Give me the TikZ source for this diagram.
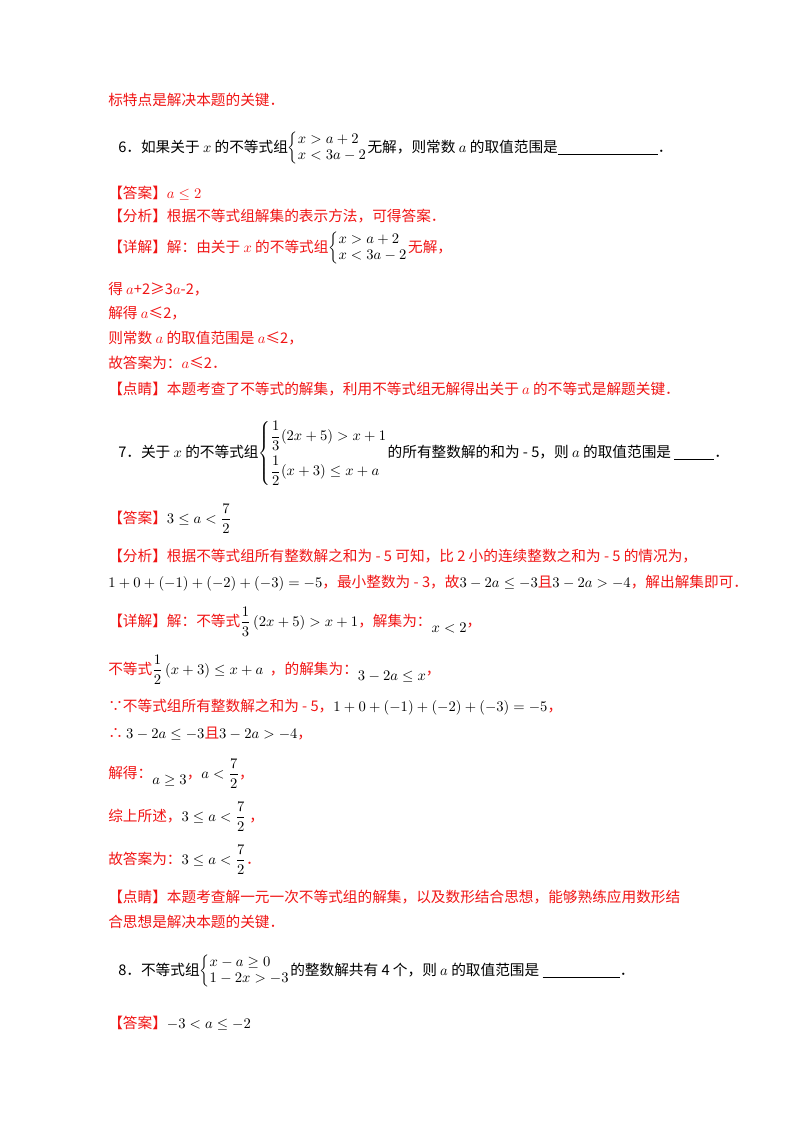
\documentclass[tikz,border=0pt]{standalone}
\usepackage{fontspec}
\setmainfont{Noto Sans CJK SC}
\definecolor{rd}{RGB}{240,20,20}
\begin{document}
\begin{tikzpicture}[x=0.75pt,y=-0.75pt,
  t/.style={anchor=base west,inner sep=0pt,font=\fontsize{11}{13}\selectfont},
  r/.style={t,text=rd}]
\useasboundingbox (0,0) rectangle (800,1132);
\newcommand{\sysA}[2]{\left\{\renewcommand{\arraystretch}{0.95}\begin{array}{@{}l@{}}#1\\#2\end{array}\right.}
\newcommand{\fr}[2]{{\displaystyle\frac{#1}{#2}}}
\node[r] (l1) at (108,105) {标特点是解决本题的关键．};
\node[t] (l2) at (118,152) {6．如果关于 $x$ 的不等式组$\sysA{x>a+2}{x<3a-2}$无解，则常数 $a$ 的取值范围是\underline{\hspace{75pt}}．};
\node[r] (l3) at (108,198) {【答案】$a\leq2$};
\node[r] (l4) at (108,221) {【分析】根据不等式组解集的表示方法，可得答案．};
\node[r] (l5) at (108,252) {【详解】解：由关于 $x$ 的不等式组\textcolor{black}{$\sysA{x>a+2}{x<3a-2}$}无解，};
\node[r] (l6) at (108,294) {得 $a$+2≥3$a$-2，};
\node[r] (l7) at (108,318) {解得 $a$≤2，};
\node[r] (l8) at (108,343) {则常数 $a$ 的取值范围是 $a$≤2，};
\node[r] (l9) at (108,368) {故答案为：$a$≤2．};
\node[r] (l10) at (108,394) {【点睛】本题考查了不等式的解集，利用不等式组无解得出关于 $a$ 的不等式是解题关键．};
\node[t] (l11) at (118,457) {7．关于 $x$ 的不等式组$\left\{\begin{array}{@{}l@{}}\fr{1}{3}(2x+5)>x+1\\[8pt]\fr{1}{2}(x+3)\leq x+a\end{array}\right.$的所有整数解的和为 - 5，则 $a$ 的取值范围是 \underline{\hspace{30pt}}．};
\node[r] (l12) at (108,523) {【答案】\textcolor{black}{$3\leq a<\fr{7}{2}$}};
\node[r] (l13) at (108,561) {【分析】根据不等式组所有整数解之和为 - 5 可知，比 2 小的连续整数之和为 - 5 的情况为，};
\node[r] (l14) at (108,587) {\textcolor{black}{$1+0+(-1)+(-2)+(-3)=-5$}，最小整数为 - 3，故\textcolor{black}{$3-2a\leq-3$}且\textcolor{black}{$3-2a>-4$}，解出解集即可．};
\node[r] (l15) at (108,626) {【详解】解：不等式\textcolor{black}{$\fr{1}{3}\left(2x+5\right)>x+1$}，解集为：\textcolor{black}{\raisebox{-5pt}{$x<2$}}，};
\node[r] (l16) at (108,674) {不等式\textcolor{black}{$\fr{1}{2}\left(x+3\right)\leq x+a$}\ \ ，的解集为：\textcolor{black}{\raisebox{-5pt}{$3-2a\leq x$}}，};
\node[r] (l17) at (108,711) {∵不等式组所有整数解之和为 - 5，\textcolor{black}{$1+0+(-1)+(-2)+(-3)=-5$}，};
\node[r] (l18) at (108,738) {∴ \textcolor{black}{$3-2a\leq-3$}且\textcolor{black}{$3-2a>-4$}，};
\node[r] (l19) at (108,778) {解得：\textcolor{black}{\raisebox{-5pt}{$a\geq3$}}，\textcolor{black}{$a<\fr{7}{2}$}，};
\node[r] (l20) at (108,821) {综上所述，\textcolor{black}{$3\leq a<\fr{7}{2}$}\ ，};
\node[r] (l21) at (108,864) {故答案为：\textcolor{black}{$3\leq a<\fr{7}{2}$}．};
\node[r] (l22) at (108,902) {【点睛】本题考查解一元一次不等式组的解集，以及数形结合思想，能够熟练应用数形结};
\node[r] (l23) at (108,927) {合思想是解决本题的关键．};
\node[t] (l24) at (118,975) {8．不等式组$\sysA{x-a\geq0}{1-2x>-3}$的整数解共有 4 个，则 $a$ 的取值范围是 \underline{\hspace{58pt}}．};
\node[r] (l25) at (108,1028) {【答案】\textcolor{black}{$-3<a\leq-2$}};
\end{tikzpicture}
\end{document}
